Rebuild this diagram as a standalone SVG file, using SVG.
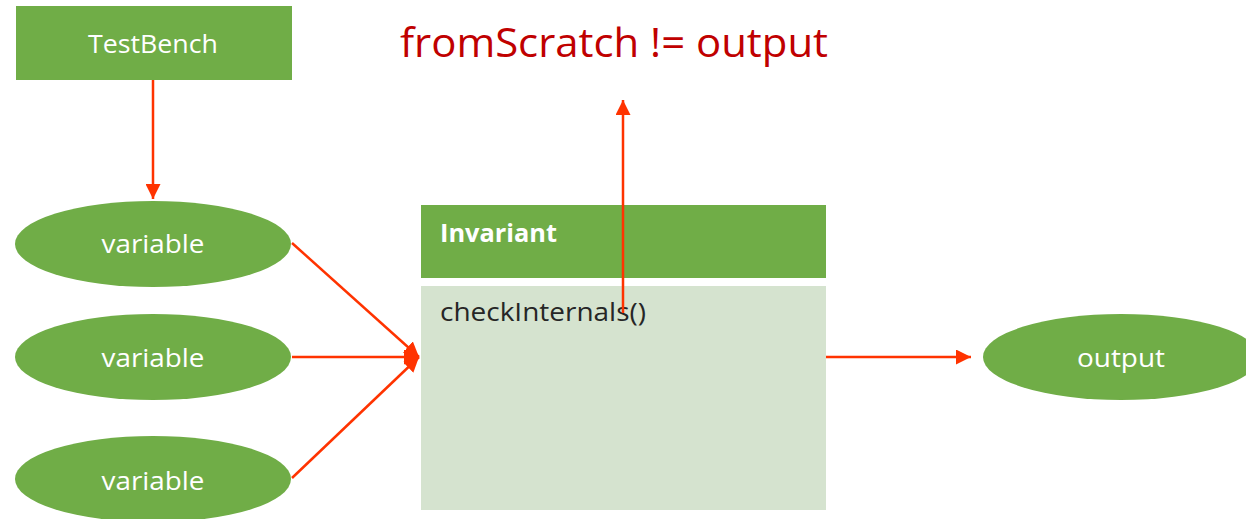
<svg xmlns="http://www.w3.org/2000/svg" width="1246" height="519" viewBox="0 0 1246 519">
<style>
.g{fill:#70AD47}
.lt{fill:#D5E3CF}
.w{fill:#fff;font-family:"Open Sans","Liberation Sans",sans-serif;font-size:26px}
.c{stroke:#FF3300;stroke-width:2.5;fill:none}
</style>
<defs>
<marker id="ah" viewBox="0 0 10 10" refX="10" refY="5" markerWidth="6" markerHeight="6" markerUnits="strokeWidth" orient="auto">
<path d="M0,0 L10,5 L0,10 z" fill="#FF3300"/>
</marker>
</defs>
<rect width="1246" height="519" fill="#fff"/>
<g id="testbench">
<rect class="g" x="16" y="6" width="276" height="74"/>
<text class="w" x="153" y="53" text-anchor="middle" textLength="130" lengthAdjust="spacingAndGlyphs">TestBench</text>
</g>
<g id="variable1">
<ellipse class="g" cx="153" cy="244" rx="138" ry="43"/>
<text class="w" x="153" y="253" text-anchor="middle" textLength="103" lengthAdjust="spacingAndGlyphs">variable</text>
</g>
<g id="variable2">
<ellipse class="g" cx="153" cy="357" rx="138" ry="43"/>
<text class="w" x="153" y="367" text-anchor="middle" textLength="103" lengthAdjust="spacingAndGlyphs">variable</text>
</g>
<g id="variable3">
<ellipse class="g" cx="153" cy="479" rx="138" ry="43"/>
<text class="w" x="153" y="490" text-anchor="middle" textLength="103" lengthAdjust="spacingAndGlyphs">variable</text>
</g>
<g id="invariant">
<rect class="g" x="421" y="205" width="405" height="73"/>
<rect class="lt" x="421" y="286" width="405" height="224"/>
<text x="440" y="242" textLength="117" lengthAdjust="spacingAndGlyphs" style="fill:#fff;font-family:'Open Sans','Liberation Sans',sans-serif;font-size:25px;font-weight:bold">Invariant</text>
<text x="440" y="321" textLength="206" lengthAdjust="spacingAndGlyphs" style="fill:#262626;font-family:'Open Sans','Liberation Sans',sans-serif;font-size:26px">checkInternals()</text>
</g>
<g id="output">
<ellipse class="g" cx="1121" cy="357" rx="138" ry="43"/>
<text class="w" x="1121" y="367" text-anchor="middle" textLength="88" lengthAdjust="spacingAndGlyphs">output</text>
</g>
<g id="label">
<text x="400" y="57" textLength="428" lengthAdjust="spacingAndGlyphs" style="fill:#C00000;font-family:'Open Sans','Liberation Sans',sans-serif;font-size:40px">fromScratch != output</text>
</g>
<g id="connectors">
<line class="c" x1="153" y1="80" x2="153" y2="199" marker-end="url(#ah)"/>
<line class="c" x1="292" y1="243" x2="419" y2="357" marker-end="url(#ah)"/>
<line class="c" x1="292" y1="357" x2="419" y2="357" marker-end="url(#ah)"/>
<line class="c" x1="292" y1="478" x2="419" y2="357" marker-end="url(#ah)"/>
<line class="c" x1="623" y1="313" x2="623" y2="100" marker-end="url(#ah)"/>
<line class="c" x1="826" y1="357" x2="971" y2="357" marker-end="url(#ah)"/>
</g>
</svg>
